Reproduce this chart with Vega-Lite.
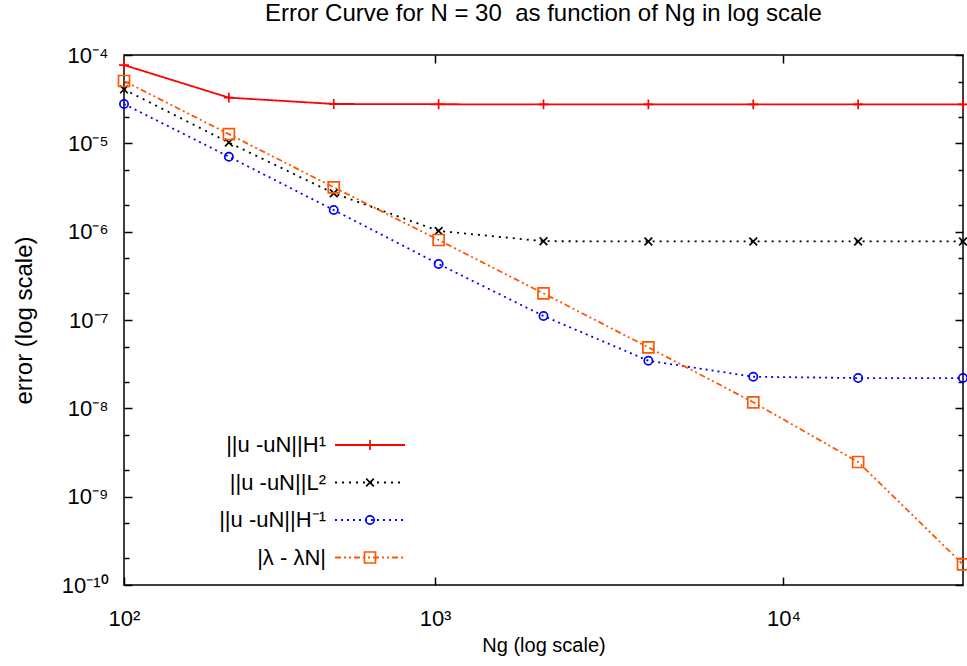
{
  "$schema": "https://vega.github.io/schema/vega-lite/v6.json",
  "width": 839,
  "height": 530,
  "autosize": {"type": "none"},
  "padding": {"left": 124, "top": 55, "right": 4, "bottom": 81},
  "background": "white",
  "config": {
    "font": "Liberation Sans",
    "view": {"stroke": "black", "strokeWidth": 1.5},
    "axis": {"grid": false, "domain": false, "tickColor": "black", "tickWidth": 1.5, "labelColor": "black", "titleColor": "black", "titleFontWeight": "normal"},
    "legend": {"labelColor": "black", "labelFont": "Liberation Sans"}
  },
  "title": {"text": "Error Curve for N = 30 \u00a0as function of Ng in log scale", "fontSize": 24, "fontWeight": "normal", "anchor": "middle", "baseline": "alphabetic", "offset": -1, "color": "black"},
  "data": {"values": [
    {"Ng": 128, "series": "||u -uN||H¹", "err": 7.7e-5},
    {"Ng": 256, "series": "||u -uN||H¹", "err": 3.29e-5},
    {"Ng": 512, "series": "||u -uN||H¹", "err": 2.79e-5},
    {"Ng": 1024, "series": "||u -uN||H¹", "err": 2.77e-5},
    {"Ng": 2048, "series": "||u -uN||H¹", "err": 2.76e-5},
    {"Ng": 4096, "series": "||u -uN||H¹", "err": 2.76e-5},
    {"Ng": 8192, "series": "||u -uN||H¹", "err": 2.76e-5},
    {"Ng": 16384, "series": "||u -uN||H¹", "err": 2.76e-5},
    {"Ng": 32768, "series": "||u -uN||H¹", "err": 2.76e-5},
    {"Ng": 128, "series": "||u -uN||L²", "err": 4.08e-5},
    {"Ng": 256, "series": "||u -uN||L²", "err": 1.02e-5},
    {"Ng": 512, "series": "||u -uN||L²", "err": 2.72e-6},
    {"Ng": 1024, "series": "||u -uN||L²", "err": 1.02e-6},
    {"Ng": 2048, "series": "||u -uN||L²", "err": 7.8e-7},
    {"Ng": 4096, "series": "||u -uN||L²", "err": 7.75e-7},
    {"Ng": 8192, "series": "||u -uN||L²", "err": 7.75e-7},
    {"Ng": 16384, "series": "||u -uN||L²", "err": 7.75e-7},
    {"Ng": 32768, "series": "||u -uN||L²", "err": 7.75e-7},
    {"Ng": 128, "series": "||u -uN||H⁻¹", "err": 2.79e-5},
    {"Ng": 256, "series": "||u -uN||H⁻¹", "err": 7.06e-6},
    {"Ng": 512, "series": "||u -uN||H⁻¹", "err": 1.76e-6},
    {"Ng": 1024, "series": "||u -uN||H⁻¹", "err": 4.3e-7},
    {"Ng": 2048, "series": "||u -uN||H⁻¹", "err": 1.11e-7},
    {"Ng": 4096, "series": "||u -uN||H⁻¹", "err": 3.46e-8},
    {"Ng": 8192, "series": "||u -uN||H⁻¹", "err": 2.28e-8},
    {"Ng": 16384, "series": "||u -uN||H⁻¹", "err": 2.2e-8},
    {"Ng": 32768, "series": "||u -uN||H⁻¹", "err": 2.2e-8},
    {"Ng": 128, "series": "|λ - λN|", "err": 5.08e-5},
    {"Ng": 256, "series": "|λ - λN|", "err": 1.27e-5},
    {"Ng": 512, "series": "|λ - λN|", "err": 3.18e-6},
    {"Ng": 1024, "series": "|λ - λN|", "err": 8.05e-7},
    {"Ng": 2048, "series": "|λ - λN|", "err": 2.0e-7},
    {"Ng": 4096, "series": "|λ - λN|", "err": 4.9e-8},
    {"Ng": 8192, "series": "|λ - λN|", "err": 1.17e-8},
    {"Ng": 16384, "series": "|λ - λN|", "err": 2.47e-9},
    {"Ng": 32768, "series": "|λ - λN|", "err": 1.71e-10}
  ]},
  "layer": [
    {
      "mark": {"type": "line", "strokeWidth": 1.8},
      "encoding": {
        "x": {"field": "Ng", "type": "quantitative", "scale": {"type": "log", "domain": [128, 32768], "nice": false},
          "axis": {"orient": "bottom", "values": [128, 1000, 10000], "labelExpr": "datum.value < 200 ? '10²' : datum.value < 2000 ? '10³' : '10⁴'", "tickSize": -8, "labelFontSize": 22, "labelPadding": 31, "labelFlush": false, "title": "Ng (log scale)", "titleFontSize": 20, "titlePadding": 6}},
        "y": {"field": "err", "type": "quantitative", "scale": {"type": "log", "domain": [1e-10, 1e-4], "nice": false},
          "axis": {"orient": "left", "values": [1e-10, 1e-9, 1e-8, 1e-7, 1e-6, 1e-5, 1e-4], "labelExpr": "['10⁻¹⁰','10⁻⁹','10⁻⁸','10⁻⁷','10⁻⁶','10⁻⁵','10⁻⁴'][round(log(datum.value)/LN10)+10]", "tickSize": -8, "labelFontSize": 22, "labelPadding": 24, "labelFlush": false, "title": "error (log scale)", "titleFontSize": 24, "titlePadding": 25}},
        "stroke": {"field": "series", "type": "nominal",
          "scale": {"domain": ["||u -uN||H¹", "||u -uN||L²", "||u -uN||H⁻¹", "|λ - λN|"], "range": ["#ff0000", "#000000", "#0000ff", "#ff5500"]},
          "legend": {"orient": "none", "legendX": 235, "legendY": 379, "title": null, "symbolType": "M-6.36,0H6.36", "symbolSize": 121, "symbolStrokeWidth": 1.8, "labelFontSize": 22, "labelAlign": "right", "labelOffset": -55, "rowPadding": 15.5, "padding": 0}},
        "strokeDash": {"field": "series", "type": "nominal",
          "scale": {"domain": ["||u -uN||H¹", "||u -uN||L²", "||u -uN||H⁻¹", "|λ - λN|"], "range": [[1, 0], [2, 5], [2, 4], [6, 3, 2, 3, 2, 3]]}}
      }
    },
    {
      "mark": {"type": "point", "filled": false, "size": 121, "strokeWidth": 1.7, "opacity": 1},
      "encoding": {
        "x": {"field": "Ng", "type": "quantitative", "axis": {"orient": "top", "values": [1000, 10000], "labels": false, "tickSize": -8, "title": null}},
        "y": {"field": "err", "type": "quantitative", "axis": {"orient": "right", "values": [1e-10, 1e-9, 1e-8, 1e-7, 1e-6, 1e-5, 1e-4], "labels": false, "tickSize": -8, "title": null}},
        "color": {"field": "series", "type": "nominal", "sort": {"field": "err", "op": "min", "order": "descending"},
          "scale": {"range": ["#ff0000", "#000000", "#0000ff", "#ff5500"]},
          "legend": {"orient": "none", "legendX": 235, "legendY": 379, "title": null, "symbolSize": 121, "symbolStrokeWidth": 1.7, "labelOpacity": 0, "labelFontSize": 22, "labelAlign": "right", "labelOffset": -55, "rowPadding": 15.5, "padding": 0}},
        "shape": {"field": "series", "type": "nominal", "sort": {"field": "err", "op": "min", "order": "descending"},
          "scale": {"range": ["M-0.9,0H0.9M0,-0.9V0.9", "M-0.7,-0.7L0.7,0.7M-0.7,0.7L0.7,-0.7", "M0.75,0A0.75,0.75 0 1,1 -0.75,0A0.75,0.75 0 1,1 0.75,0Z", "M-1,-1H1V1H-1Z"]},
          "legend": {"orient": "none", "legendX": 235, "legendY": 379, "title": null, "symbolSize": 121, "symbolStrokeWidth": 1.7, "labelOpacity": 0, "labelFontSize": 22, "labelAlign": "right", "labelOffset": -55, "rowPadding": 15.5, "padding": 0}}
      }
    },
    {
      "mark": {"type": "point", "opacity": 0},
      "encoding": {
        "x": {"field": "Ng", "type": "quantitative", "axis": null},
        "y": {"field": "err", "type": "quantitative", "axis": {"orient": "left", "values": [2e-10, 5e-10, 2e-9, 5e-9, 2e-8, 5e-8, 2e-7, 5e-7, 2e-6, 5e-6, 2e-5, 5e-5], "labels": false, "tickSize": -5, "title": null}}
      }
    },
    {
      "mark": {"type": "point", "opacity": 0},
      "encoding": {
        "x": {"field": "Ng", "type": "quantitative", "axis": null},
        "y": {"field": "err", "type": "quantitative", "axis": {"orient": "right", "values": [2e-10, 5e-10, 2e-9, 5e-9, 2e-8, 5e-8, 2e-7, 5e-7, 2e-6, 5e-6, 2e-5, 5e-5], "labels": false, "tickSize": -5, "title": null}}
      }
    }
  ],
  "resolve": {"axis": {"x": "independent", "y": "independent"}}
}
